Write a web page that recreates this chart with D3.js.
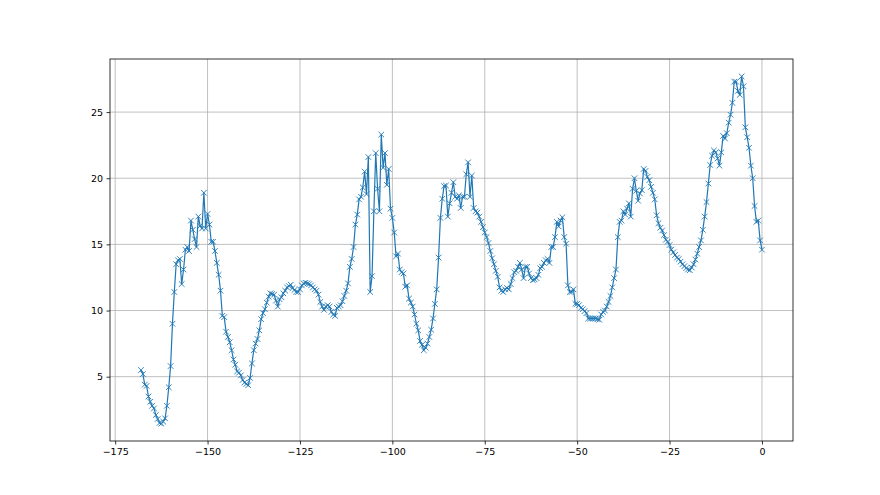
<!DOCTYPE html>
<html>
<head>
<meta charset="utf-8">
<script src="https://cdn.jsdelivr.net/npm/d3@7"></script>
<style>
  html, body { margin: 0; padding: 0; background: #fff; }
  svg { display: block; font-family: "DejaVu Sans", sans-serif; }
  .grid-line { stroke: #b0b0b0; stroke-width: 0.8; }
</style>
</head>
<body>
<svg id="chart" width="880" height="495"></svg>
<script>
// half-hourly readings, hours -168 .. 0
const hours = d3.range(-168, 0.25, 0.5)

const values = [
  // -168 .. -142
  5.5, 5.2, 4.4, 4.3, 3.5, 3.1, 2.8, 2.6, 2.1, 1.8,
  1.5, 1.45, 1.6, 1.85, 2.8, 4.2, 5.8, 9.0, 11.4, 13.5,
  13.8, 13.9, 12.0, 13.1, 14.6, 14.8, 14.5, 16.8, 16.1, 15.4,
  14.8, 17.1, 16.4, 16.2, 18.9, 16.2, 17.3, 16.5, 15.2, 15.2,
  14.5, 13.6, 12.7, 11.5, 9.6, 9.5, 8.4, 8.0, 7.6, 7.0,
  6.3, 5.9, 5.4,
  // -141.5 .. -113
  5.3, 5.1, 4.75, 4.55, 4.45, 4.35, 4.9, 6.0, 7.0, 7.5,
  7.85, 8.5, 9.35, 9.8, 10.1, 10.6, 11.05, 11.3, 11.25, 11.2,
  10.75, 10.3, 10.85, 11.0, 11.3, 11.5, 11.75, 11.85, 11.95, 11.7,
  11.55, 11.4, 11.4, 11.6, 11.9, 12.05, 12.1, 12.05, 12.0, 11.9,
  11.75, 11.6, 11.5, 11.2, 10.65, 10.3, 10.05, 10.3, 10.4, 10.3,
  9.9, 9.7, 9.6, 10.2, 10.3, 10.4, 10.7, 11.1,
  // -112.5 .. -85
  11.5, 12.05, 13.3, 13.9, 14.8, 16.5, 17.25, 18.4, 18.6, 19.3,
  20.5, 18.8, 21.6, 11.4, 12.6, 17.5, 21.9, 19.2, 17.5, 23.3,
  20.8, 21.9, 19.5, 20.7, 17.7, 17.0,
  15.9, 14.1, 14.3, 13.1, 12.9, 12.8, 11.8, 11.9, 10.9, 10.6,
  10.3, 9.7, 9.0, 8.5, 7.7, 7.4, 7.0, 7.2, 7.5, 8.0,
  8.55, 9.4, 10.5, 11.6, 14.0, 17.0, 18.45, 19.4, 19.45, 17.1,
  // -84.5 .. -53
  18.1, 18.9, 19.7, 18.6, 18.45, 18.7, 17.75, 18.6, 18.6, 20.3,
  21.2, 18.6, 20.2, 17.75, 17.5, 17.4, 17.1, 16.7, 16.3, 15.9,
  15.55, 15.1, 14.5, 13.95, 13.5, 13.0, 12.55, 11.75, 11.5, 11.4,
  11.6, 11.7, 11.6, 12.0, 12.45, 12.9, 13.0, 13.3, 13.6, 13.1,
  12.45, 13.3, 13.3, 12.8, 12.45, 12.3, 12.35, 12.45, 12.7, 13.2,
  13.3, 13.6, 13.8, 13.9, 13.6, 14.8, 14.8, 15.55, 16.7, 16.35,
  16.8, 17.05, 15.55, 15.05,
  // -52.5 .. -27.5
  11.9, 11.4, 11.4, 11.6, 10.5, 10.5, 10.4, 10.2, 10.1, 9.95,
  9.8, 9.4, 9.4, 9.4, 9.4, 9.4, 9.35, 9.3, 9.7, 9.9,
  10.0, 10.3, 10.65, 11.1, 11.75, 12.45, 13.1, 15.55, 16.7, 16.8,
  17.5, 17.25, 17.7, 18.1, 17.1, 19.2, 20.0, 19.05, 18.3, 18.85,
  19.1, 20.7, 20.55, 20.1, 19.85, 19.35, 18.9, 18.4, 17.2, 16.6,
  16.25,
  // -27 .. 0
  16.05, 15.7, 15.35, 15.2, 14.95, 14.6, 14.4, 14.2, 14.0, 13.9,
  13.7, 13.5, 13.35, 13.2, 13.1, 13.05, 13.25, 13.5, 13.85, 14.3,
  14.8, 15.3, 16.1, 17.1, 18.2, 19.6, 21.0, 21.7, 22.1, 21.95,
  21.5, 20.95, 21.95, 23.2, 23.0, 23.4, 24.2, 24.8, 25.7, 27.3,
  27.3, 26.6, 26.3, 27.7, 26.95, 23.85, 23.1, 22.3, 20.95, 20.0,
  17.9, 16.7, 16.8, 15.3, 14.6
]

const xTicks = [-175, -150, -125, -100, -75, -50, -25, 0]
const yTicks = [5, 10, 15, 20, 25]

const width = 880, height = 495
const margin = { left: 110, right: 87, top: 59, bottom: 54 }
const color = '#1f77b4'

const data = hours.map((h, i) => ({ h: h, v: values[i] }))

const svg = d3.select('#chart')

// matplotlib style 5% padding round the data
const xPad = (d3.max(hours) - d3.min(hours)) * 0.05
const yPad = (d3.max(values) - d3.min(values)) * 0.05

const xscale = d3.scaleLinear()
    .domain([d3.min(hours) - xPad, d3.max(hours) + xPad])
    .range([margin.left, width - margin.right])

const yscale = d3.scaleLinear()
    .domain([d3.min(values) - yPad, d3.max(values) + yPad])
    .range([height - margin.bottom, margin.top])

const fmt = d => (d < 0 ? '\u2212' + Math.abs(d) : '' + d)

const addGridLines = () => {
    svg.append('g')
        .selectAll('line')
        .data(xTicks)
        .join('line')
        .classed('grid-line', true)
        .attr('x1', d => xscale(d)).attr('x2', d => xscale(d))
        .attr('y1', margin.top).attr('y2', height - margin.bottom)

    svg.append('g')
        .selectAll('line')
        .data(yTicks)
        .join('line')
        .classed('grid-line', true)
        .attr('x1', margin.left).attr('x2', width - margin.right)
        .attr('y1', d => yscale(d)).attr('y2', d => yscale(d))
}

const addLine = () => {
    const chartLine = d3.line()
        .x(d => xscale(d.h))
        .y(d => yscale(d.v))

    svg.append('path')
        .datum(data)
        .attr('d', chartLine)
        .attr('fill', 'none')
        .attr('stroke', color)
        .attr('stroke-width', 1.2)
        .attr('stroke-linejoin', 'round')

    // 'x' markers
    svg.append('g')
        .selectAll('path')
        .data(data)
        .join('path')
        .attr('transform', d => `translate(${xscale(d.h)},${yscale(d.v)})`)
        .attr('d', 'M-2.8,-2.8L2.8,2.8M-2.8,2.8L2.8,-2.8')
        .attr('fill', 'none')
        .attr('stroke', color)
        .attr('stroke-width', 0.9)
}

const addAxes = () => {
    const xAxis = d3.axisBottom(xscale)
        .tickValues(xTicks)
        .tickFormat(fmt)
        .tickSize(3.5)
        .tickPadding(3.5)

    svg.append('g')
        .attr('transform', `translate(0, ${height - margin.bottom})`)
        .call(xAxis)
        .call(g => g.select('.domain').remove())

    const yAxis = d3.axisLeft(yscale)
        .tickValues(yTicks)
        .tickFormat(fmt)
        .tickSize(3.5)
        .tickPadding(3.5)

    svg.append('g')
        .attr('transform', `translate(${margin.left}, 0)`)
        .call(yAxis)
        .call(g => g.select('.domain').remove())

    svg.selectAll('.tick line').attr('stroke', '#000').attr('stroke-width', 0.8)
    svg.selectAll('.tick text')
        .attr('fill', '#000')
        .style('font-size', '9.5px')
        .style('font-family', '"DejaVu Sans", sans-serif')

    // frame
    svg.append('rect')
        .attr('x', margin.left)
        .attr('y', margin.top)
        .attr('width', width - margin.left - margin.right)
        .attr('height', height - margin.top - margin.bottom)
        .attr('fill', 'none')
        .attr('stroke', '#000')
        .attr('stroke-width', 0.8)
}

addGridLines()
addLine()
addAxes()
</script>
</body>
</html>
